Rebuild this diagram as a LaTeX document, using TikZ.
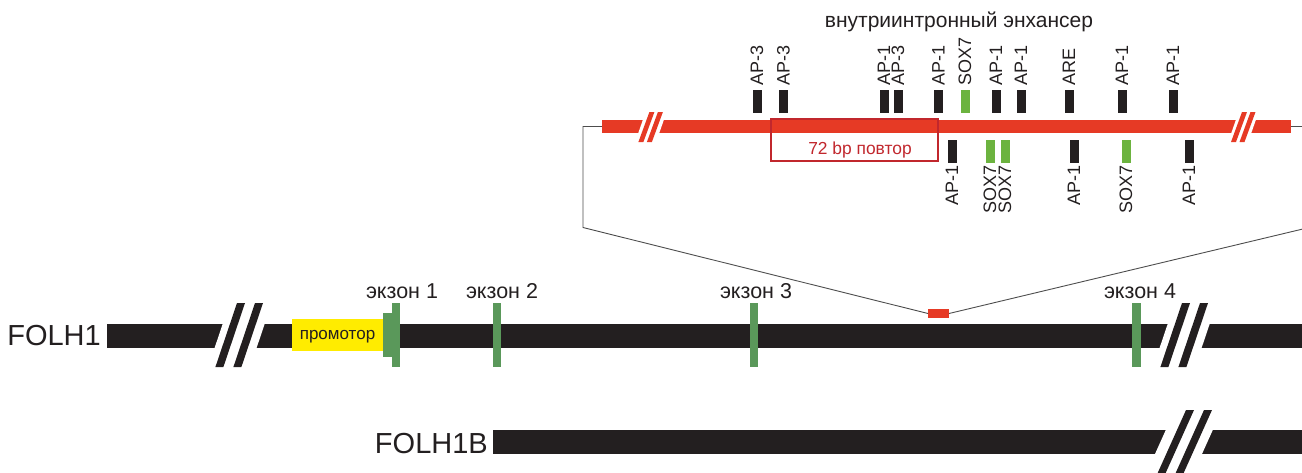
\documentclass[tikz,border=0pt]{standalone}
\usepackage{fontspec}
\setmainfont{Liberation Sans}
\definecolor{gblack}{HTML}{231F20}
\definecolor{gred}{HTML}{E63A25}
\definecolor{exgreen}{HTML}{5A985A}
\definecolor{sgreen}{HTML}{6CB33F}
\definecolor{pyellow}{HTML}{FFEC00}
\definecolor{boxred}{HTML}{C1272D}
\definecolor{conngray}{HTML}{4D4D4D}
\newcommand\mybrk{%
  \fill[white] (223,323) -- (265,323) -- (256.55,348) -- (214.55,348) -- cycle;
  \fill[gblack] (237,303) -- (245,303) -- (223.4,367) -- (215.4,367) -- cycle;
  \fill[gblack] (255,303) -- (263,303) -- (241.4,367) -- (233.4,367) -- cycle;}
\begin{document}
\begin{tikzpicture}[x=1pt,y=-1pt,
  conn/.style={draw=conngray,line width=0.9pt},
  sitebox/.style={minimum width=9pt,minimum height=23pt,inner sep=0pt,outer sep=0pt,fill=gblack},
  toplab/.style={rotate=90,anchor=west,inner sep=0pt,font=\fontsize{18}{18}\selectfont,text=gblack},
  botlab/.style={rotate=90,anchor=east,inner sep=0pt,font=\fontsize{18}{18}\selectfont,text=gblack},
  exlab/.style={anchor=base,inner sep=0pt,font=\fontsize{21.5}{22}\selectfont,text=gblack},
  genelab/.style={anchor=base east,inner sep=0pt,font=\fontsize{29}{29}\selectfont,text=gblack},
  exon/.style={fill=exgreen,inner sep=0pt,outer sep=0pt,minimum width=8.5pt,minimum height=64pt},
]
\useasboundingbox (0,0) rectangle (1302,472);
\clip (0,0) rectangle (1302,472);

% small highlighted region on FOLH1
\node[fill=gred,inner sep=0pt,outer sep=0pt,minimum width=21pt,minimum height=9pt] (hl) at (938.5,313.5) {};

% enhancer bar ends
\coordinate (encL) at (602,126.5);
\coordinate (encR) at (1291,126.5);

% zoom connectors
\draw[conn] (encL) -- (583,126.5) -- (583,227.5) -- (hl.west);
\draw[conn] (encR) -- (1307,126.5) -- (1307,228) -- (hl.east);

% enhancer bar
\fill[gred] (602,120) rectangle (1291,133);
\fill[white] (643,119.5) -- (664,119.5) -- (659.1,133.5) -- (638.1,133.5) -- cycle;
\fill[gred] (649.4,112) -- (654.4,112) -- (643.4,142) -- (638.4,142) -- cycle;
\fill[gred] (657.9,112) -- (662.9,112) -- (651.9,142) -- (646.9,142) -- cycle;
\fill[white] (1236,119.5) -- (1256,119.5) -- (1251.1,133.5) -- (1231.1,133.5) -- cycle;
\fill[gred] (1242,112) -- (1247,112) -- (1236,142) -- (1231,142) -- cycle;
\fill[gred] (1250.5,112) -- (1255.5,112) -- (1244.5,142) -- (1239.5,142) -- cycle;

% 72 bp repeat box
\node[draw=boxred,line width=1.6pt,inner sep=0pt,minimum width=167pt,minimum height=42pt] (rep) at (854.5,140) {};
\node[anchor=base,inner sep=0pt,text=boxred,font=\fontsize{17.4}{18}\selectfont] (replab) at (860,154) {72 bp повтор};

% title
\node[anchor=base,inner sep=0pt,text=gblack,font=\fontsize{21}{21}\selectfont] (title) at (959,27) {внутриинтронный энхансер};

% binding sites above
\foreach \x/\c/\l [count=\i] in {757/gblack/AP-3, 783.5/gblack/AP-3, 884/gblack/AP-1, 898/gblack/AP-3, 938.5/gblack/AP-1, 965/sgreen/SOX7, 996/gblack/AP-1, 1021/gblack/AP-1, 1069/gblack/ARE, 1122/gblack/AP-1, 1173/gblack/AP-1}{
  \node[sitebox,fill=\c] (t\i) at (\x,101.5) {};
  \node[toplab] (tl\i) at ([yshift=4pt]t\i.north) {\l};
}
% binding sites below
\foreach \x/\c/\l [count=\i] in {952/gblack/AP-1, 990/sgreen/SOX7, 1005/sgreen/SOX7, 1074/gblack/AP-1, 1126/sgreen/SOX7, 1189/gblack/AP-1}{
  \node[sitebox,fill=\c] (b\i) at (\x,151.5) {};
  \node[botlab] (bl\i) at ([yshift=-2.5pt]b\i.south) {\l};
}

% FOLH1 gene
\node[genelab] (folh1) at (101,345) {FOLH1};
\fill[gblack] (107,323.5) rectangle (1310,347.5);
\mybrk
\begin{scope}[xshift=945pt]\mybrk\end{scope}

% promoter
\node[fill=pyellow,inner sep=0pt,outer sep=0pt,minimum width=91pt,minimum height=32pt,text depth=0pt,text=gblack,font=\fontsize{17}{17}\selectfont] (prom) at (337.5,335) {промотор};

% exons
\fill[exgreen] (383,313) rectangle (392.5,357);
\node[exon] (ex1) at (396,335) {};
\node[exon] (ex2) at (497,335) {};
\node[exon] (ex3) at (754,335) {};
\node[exon] (ex4) at (1136.5,335) {};
\node[exlab] (ex1l) at (402,298) {экзон 1};
\node[exlab] (ex2l) at (502,298) {экзон 2};
\node[exlab] (ex3l) at (756,298) {экзон 3};
\node[exlab] (ex4l) at (1140,298) {экзон 4};

% FOLH1B gene
\node[genelab] (folh1b) at (488,453) {FOLH1B};
\fill[gblack] (493,430) rectangle (1310,454);
\fill[white] (1166,429.5) -- (1213,429.5) -- (1201.75,454.5) -- (1154.75,454.5) -- cycle;
\fill[gblack] (1186,410) -- (1194,410) -- (1164.3,476) -- (1156.3,476) -- cycle;
\fill[gblack] (1204,410) -- (1212,410) -- (1182.3,476) -- (1174.3,476) -- cycle;
\end{tikzpicture}
\end{document}
